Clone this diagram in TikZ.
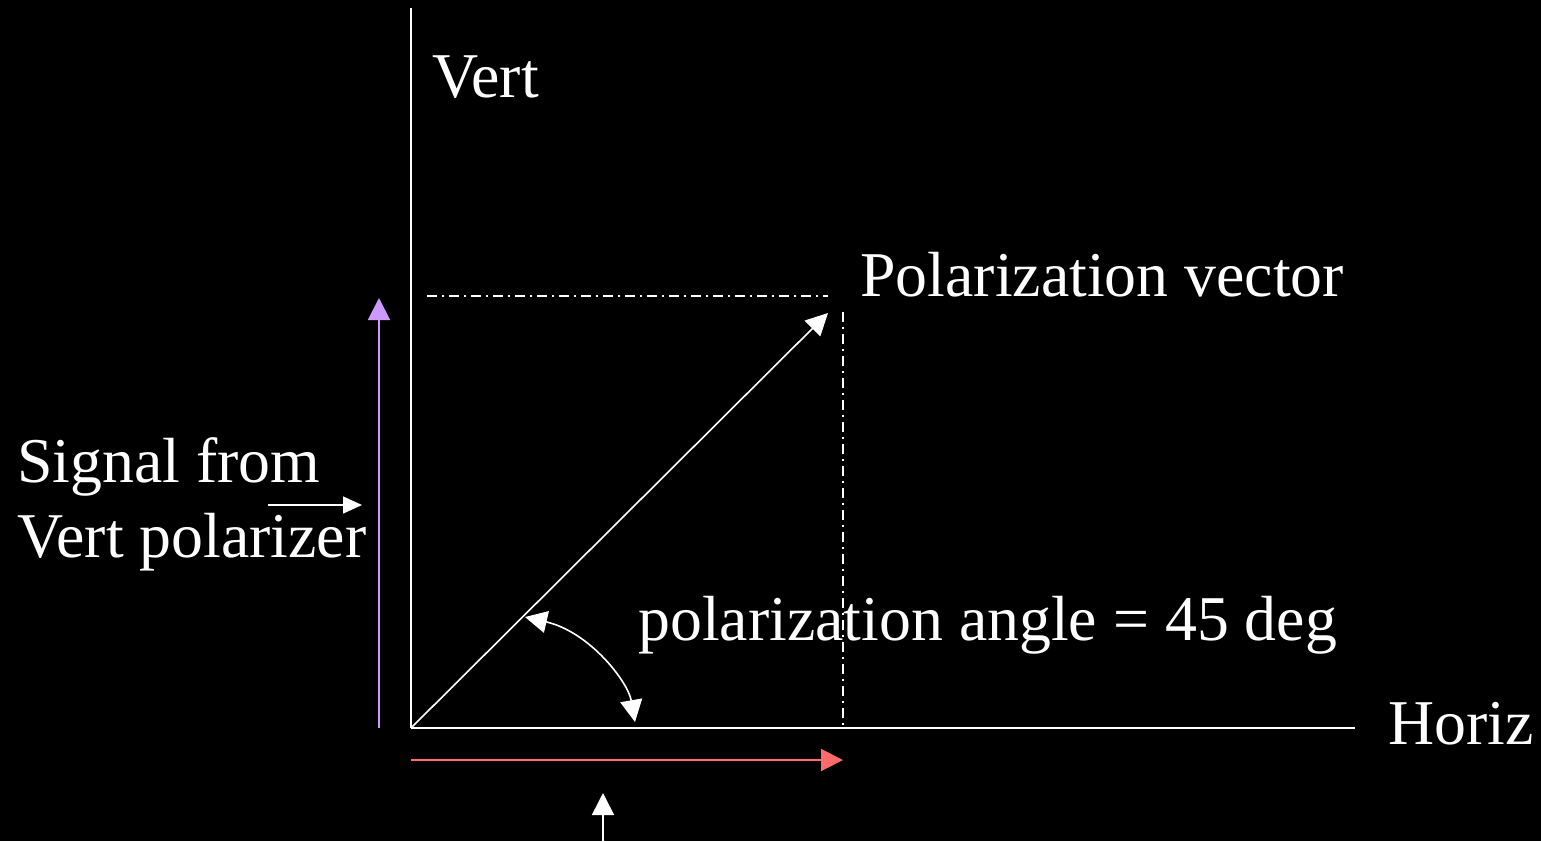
\documentclass[tikz,border=0pt]{standalone}
\usepackage{fontspec}
\setmainfont{Liberation Serif}
\usetikzlibrary{arrows.meta}
\usepackage{xcolor}
\definecolor{polInk}{HTML}{FFFFFF}
\definecolor{polVert}{HTML}{CC99FF}
\definecolor{polHoriz}{HTML}{FF6B6B}

\tikzset{
  axisline/.style={polInk, line width=1pt},
  guideline/.style={polInk, line width=0.9pt,
    dash pattern=on 5pt off 2.5pt on 1pt off 2.5pt},
  bigtip/.style={-{Triangle[length=11pt, width=11pt]}},
  label/.style={anchor=base west, inner sep=0, text=polInk,
    font=\fontsize{31.9}{38}\selectfont}
}

\begin{document}
\begin{tikzpicture}[x=0.5pt, y=-0.5pt, line cap=butt]

% --- canvas ---
\fill[black] (0,0) rectangle (1541,841);
\useasboundingbox (0,0) rectangle (1541,841);

% --- key points ---
\coordinate (O)    at (411,728);
\coordinate (vTop) at (411,8);
\coordinate (hEnd) at (1355,728);
\coordinate (tip)  at (828,313);

% --- axes ---
\draw[axisline] (O) -- (vTop);
\draw[axisline] (O) -- (hEnd);

% --- projections ---
\coordinate (gA) at (427,296);
\coordinate (gB) at (828,296);
\coordinate (gC) at (843,312);
\coordinate (gD) at (843,725);
\draw[guideline] (gA) -- (gB);
\draw[guideline] (gC) -- (gD);

% --- polarization vector ---
\draw[axisline, line width=0.8pt, bigtip] (O) -- (tip);

% --- components ---
\coordinate (vBot) at (379,728);
\coordinate (vUp)  at (379,298);
\draw[polVert, line width=1pt, bigtip] (vBot) -- (vUp);
\coordinate (hBeg) at (411,760);
\coordinate (hFin) at (843,760);
\draw[polHoriz, line width=1pt, bigtip] (hBeg) -- (hFin);

% --- angle ---
\coordinate (aS) at (525,617);
\coordinate (aE) at (635,722);
\draw[polInk, line width=0.8pt,
      {Triangle[length=11pt, width=11pt]}-{Triangle[length=11pt, width=11pt]}]
  (aS) .. controls (590,632) and (628,682) .. (aE);

% --- labels ---
\node[label] (vert)  at (432,97)  {Vert};
\node[label] (horiz) at (1388,744) {Horiz};
\node[label] (pvec)  at (860,296) {Polarization vector};
\node[label] (pang)  at (638,640) {polarization angle = 45 deg};
\node[label] (sig1)  at (17,482)  {Signal from};
\node[label] (sig2)  at (17,557)  {Vert polarizer};

% --- pointers ---
\coordinate (sL) at (268,505);
\coordinate (sR) at (362,505);
\draw[polInk, line width=0.8pt, -{Triangle[length=9.5pt, width=8.5pt]}] (sL) -- (sR);
\coordinate (uB) at (603,841);
\coordinate (uT) at (603,793);
\draw[polInk, line width=0.8pt, bigtip] (uB) -- (uT);

\end{tikzpicture}
\end{document}
